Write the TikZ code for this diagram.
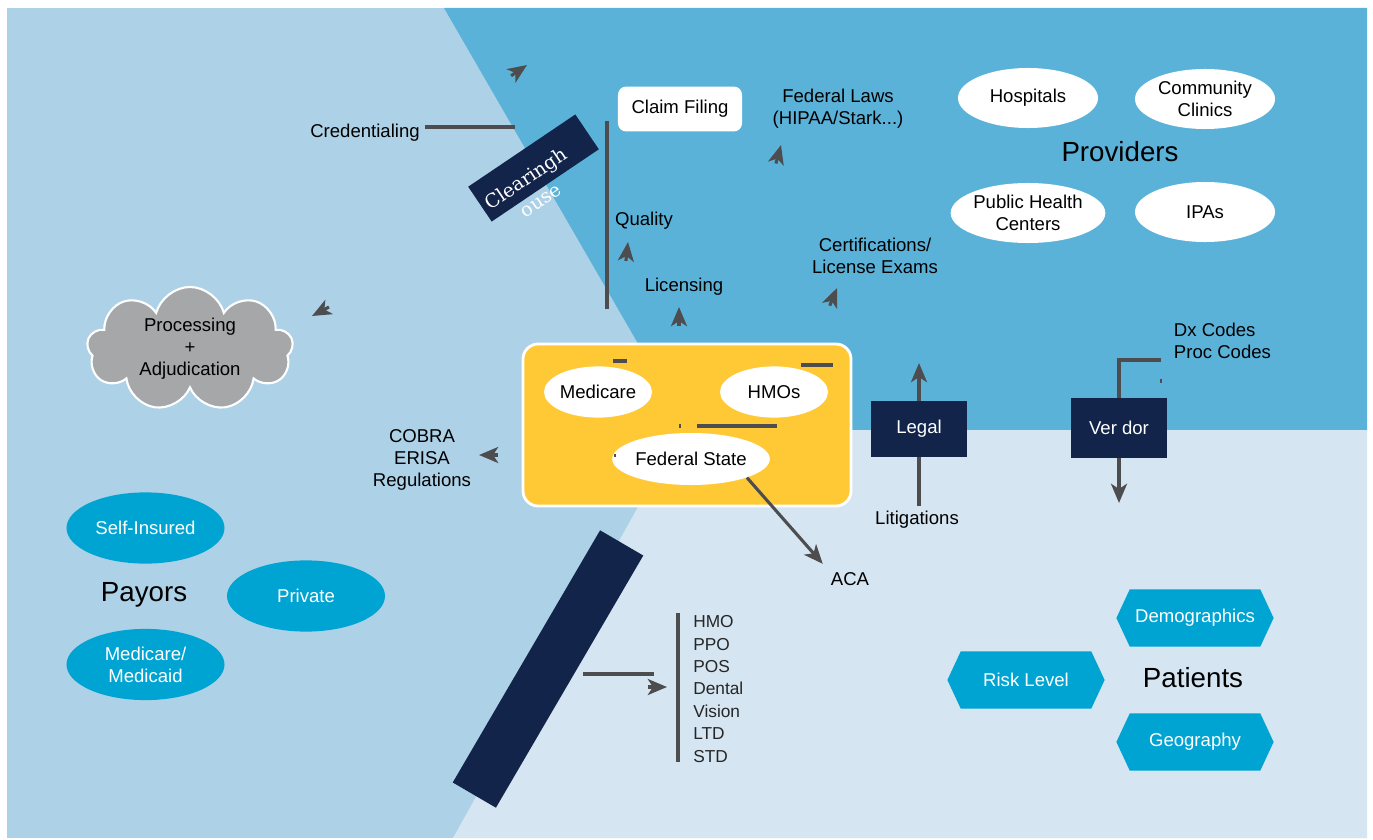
\documentclass[tikz,border=0pt]{standalone}
\usepackage{fontspec}
\setmainfont{Liberation Sans}
\newfontfamily\chfont{DejaVu Serif}
\usepackage{tikz}
\usetikzlibrary{arrows.meta}
\usetikzlibrary{shapes.geometric}
\usetikzlibrary{shapes.symbols}
\usetikzlibrary{positioning}

\definecolor{paybg}{HTML}{ADD1E7}
\definecolor{provbg}{HTML}{5BB2D9}
\definecolor{patbg}{HTML}{D5E5F1}
\definecolor{navy}{HTML}{13244A}
\definecolor{govyellow}{HTML}{FFC935}
\definecolor{cyanfill}{HTML}{00A4D2}
\definecolor{cloudgray}{HTML}{A6A7A9}
\definecolor{linegray}{HTML}{4D4D4F}

\tikzset{lbl/.style = {font=\fontsize{13.2}{15.6}\selectfont, align=center},
         biglbl/.style = {font=\fontsize{19.7}{23}\selectfont},
         provell/.style = {ellipse, fill=white, lbl, inner sep=0pt,
                           minimum width=3.5cm, minimum height=1.5cm},
         govell/.style = {ellipse, fill=white, lbl, inner sep=0pt,
                          minimum width=2.7cm, minimum height=1.28cm},
         payell/.style = {ellipse, fill=cyanfill, text=white, lbl, inner sep=0pt,
                          minimum width=3.95cm, minimum height=1.78cm},
         patsig/.style = {signal, signal to=east and west, signal pointer angle=130,
                          fill=cyanfill, text=white, lbl, inner sep=0pt,
                          minimum width=3.93cm, minimum height=1.43cm},
         navybox/.style = {rectangle, fill=navy, text=white, lbl, inner sep=0pt},
         conn/.style = {draw=linegray, line width=2.2pt},
         arr/.style = {-{Stealth[length=0.48cm, width=0.4cm, inset=0.13cm]}},
         headonly/.style = {conn, arr}}

\begin{document}
\begin{tikzpicture}[x=0.025cm, y=-0.025cm]
    \useasboundingbox (0, 0) rectangle (1373, 840);
    \fill [white] (0, 0) rectangle (1373, 840);
    \fill [paybg] (7, 8) rectangle (1367, 838);
    \fill [provbg] (444, 8) -- (1367, 8) -- (1367, 430) -- (688, 430) -- cycle;
    \fill [patbg] (453, 838) -- (681, 430) -- (1367, 430) -- (1367, 838) -- cycle;

    \node [biglbl] (providers) at (1120, 152) {Providers};
    \node [provell] (hosp) at (1028, 98) {Hospitals};
    \node [provell] (clinics) at (1205, 99) {Community\\Clinics};
    \node [provell] (public) at (1028, 213) {Public Health\\Centers};
    \node [provell] (ipas) at (1205, 212) {IPAs};

    \node [biglbl] (payors) at (144, 595) {Payors};
    \node [payell] (selfins) at (145.5, 528) {Self-Insured};
    \node [payell] (private) at (306, 596) {Private};
    \node [payell] (medicaid) at (145.5, 664.5) {Medicare/\\Medicaid};

    \node [biglbl] (patients) at (1193, 678) {Patients};
    \node [patsig] (demo) at (1195, 618) {Demographics};
    \node [patsig] (risk) at (1026, 680) {Risk Level};
    \node [patsig] (geo) at (1195, 742) {Geography};

    \node [cloud, cloud puffs=9, aspect=1.65, fill=cloudgray, draw=white, line width=1.5pt,
           lbl, inner sep=0pt, minimum width=5.15cm, minimum height=3.1cm]
          (proc) at (190, 349) {Processing\\+\\Adjudication};

    \node [lbl] (cred) at (365, 133) {Credentialing};
    \node [rectangle, rounded corners=0.2cm, fill=white, lbl, minimum width=3.1cm,
           minimum height=1.12cm] (claim) at (680, 109) {Claim Filing};
    \node [lbl] (fedlaws) at (838, 109) {Federal Laws\\(HIPAA/Stark...)};
    \node [lbl] (quality) at (644, 221) {Quality};
    \node [lbl] (licensing) at (684, 287) {Licensing};
    \node [lbl] (certs) at (875, 256) {Certifications/\\License Exams};
    \node [lbl] (cobra) at (422, 460) {COBRA\\ERISA\\Regulations};

    \node [navybox, rotate=34, minimum width=3.23cm, minimum height=1.05cm] (clear) at (533.5, 168) {};
    \node [rotate=34, text=white, align=center, font=\chfont\fontsize{13.5}{18.5}\selectfont]
          (cleartxt) at (533, 189) {Clearingh\\ouse};
    \node [navybox, rotate=59.7, minimum width=7.3cm, minimum height=1.25cm] (bar) at (548, 669) {};

    \node [rectangle, rounded corners=0.38cm, fill=govyellow, draw=white, line width=2pt,
           minimum width=8.2cm, minimum height=4.05cm] (gov) at (687, 425) {};
    \node [govell] (medicare) at (598, 392) {Medicare};
    \node [govell] (hmos) at (774, 392) {HMOs};
    \node [govell, minimum width=3.5cm, minimum height=1.3cm] (fed) at (691, 459) {Federal State};
    \node [lbl] (aca) at (850, 579) {ACA};

    \node [navybox, minimum width=2.4cm, minimum height=1.4cm] (legal) at (919, 429) {Legal};
    \node [lbl] (litig) at (917, 520) {Litigations};
    \node [navybox, minimum width=2.4cm, minimum height=1.48cm] (vendor) at (1119, 428) {Ver dor};
    \node [lbl, align=left, anchor=west] (codes) at (1169, 341) {Dx Codes\\Proc Codes};

    \node [anchor=west, align=left, inner sep=0pt, text=black!85,
           font=\fontsize{12.3}{15.9}\selectfont] (plans) at (693, 689)
          {HMO\\PPO\\POS\\Dental\\Vision\\LTD\\STD};

    \coordinate (credout) at (515, 127);
    \coordinate (qtop) at (607, 121);
    \coordinate (qbot) at (607, 309);
    \coordinate (legalout) at (919, 363);
    \coordinate (vendout) at (1119, 503);
    \coordinate (codesin) at (1161, 360);
    \coordinate (barout) at (583, 674);
    \coordinate (planin) at (654, 674);
    \coordinate (brtop) at (678, 613);
    \coordinate (brbot) at (678, 762);

    \draw [conn] (cred.east |- credout) -- (credout);
    \draw [conn] (qtop) -- (qbot);
    \draw [conn, arr, shorten >=0.12cm] (fed.south east) -- (aca.north west);
    \draw [conn, arr] (legal.north) -- (legalout);
    \draw [conn] (legal.south |- litig.north) -- (legal.south);
    \draw [conn] (vendor.north) |- (codesin);
    \draw [conn, arr] (vendor.south) -- (vendout);
    \draw [conn] (barout) -- (planin);
    \draw [conn] (brtop) -- (brbot);

    \draw [conn] (613, 361) -- (627, 361);
    \draw [conn] (801, 365) -- (833, 365);
    \draw [conn] (697, 426) -- (777, 426);
    \draw [conn, line width=1pt] (680, 424) -- (680, 428);
    \draw [conn, line width=1pt] (615, 454) -- (615, 457);
    \draw [conn, line width=1pt] (1161, 379) -- (1161, 383);

    \draw [headonly] (511.1, 75.8) -- (527, 65);
    \draw [headonly] (329, 307) -- (312, 316);
    \draw [headonly] (625.9, 261) -- (628, 242);
    \draw [headonly] (679, 326) -- (679, 307);
    \draw [headonly] (775.9, 163.5) -- (781, 145);
    \draw [headonly] (829.7, 305.7) -- (837, 288);
    \draw [headonly] (498, 455) -- (479, 455);
    \draw [headonly] (648, 687) -- (667, 687);
\end{tikzpicture}
\end{document}
